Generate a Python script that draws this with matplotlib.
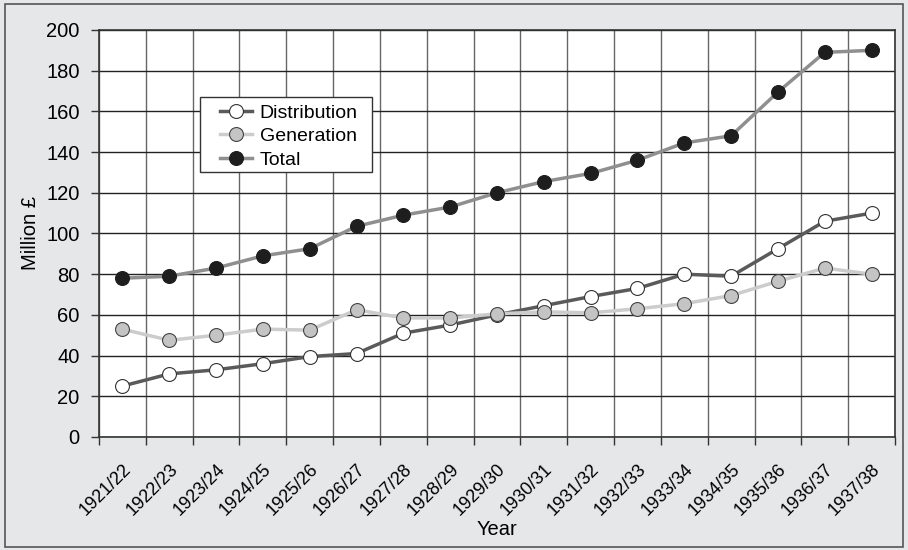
import numpy as np
import matplotlib.pyplot as plt
from matplotlib.transforms import ScaledTranslation

plt.rcParams['font.family'] = ['Liberation Sans', 'DejaVu Sans']

years = ["1921/22", "1922/23", "1923/24", "1924/25", "1925/26", "1926/27",
         "1927/28", "1928/29", "1929/30", "1930/31", "1931/32", "1932/33",
         "1933/34", "1934/35", "1935/36", "1936/37", "1937/38"]
distribution = [25, 31, 33, 36, 39.5, 41, 51, 55, 60, 64.5, 69, 73, 80, 79, 92.5, 106, 110]
generation = [53, 47.5, 50, 53, 52.5, 62.5, 58.5, 58.5, 60.5, 61.5, 61, 63, 65.5, 69.5, 76.5, 83, 80]
total = [78, 79, 83, 89, 92.5, 103.5, 109, 113, 120, 125.5, 129.5, 136, 144.5, 148, 169.5, 189, 190]

fig = plt.figure(figsize=(9.08, 5.5), dpi=100, facecolor="#e6e7e8")
fig.patches.append(plt.Rectangle((0.006, 0.006), 0.988, 0.986, transform=fig.transFigure,
                                 fill=False, edgecolor="#555555", linewidth=1.2))
ax = fig.add_axes([0.109, 0.2055, 0.8767, 0.74])
ax.set_facecolor("white")

x = np.arange(len(years))
ax.plot(x, distribution, color="#5a5a5a", lw=2.5, marker="o", ms=10,
        mfc="white", mec="#333333", mew=0.8, label="Distribution", zorder=3)
ax.plot(x, generation, color="#cccccc", lw=2.5, marker="o", ms=10,
        mfc="#c4c4c4", mec="#444444", mew=0.8, label="Generation", zorder=3)
ax.plot(x, total, color="#8f8f8f", lw=2.5, marker="o", ms=10,
        mfc="#1e1e1e", mec="#1e1e1e", mew=0.8, label="Total", zorder=3)

fs = 14.5
ax.set_xlim(-0.5, len(years) - 0.5)
ax.set_ylim(0, 200)
ax.set_yticks(np.arange(0, 201, 20))
ax.set_xticks(x)
ax.set_xticklabels(years, rotation=45, ha="right", rotation_mode="anchor", fontsize=13)
shift = ScaledTranslation(8 / 100, 0, fig.dpi_scale_trans)
for lab in ax.get_xticklabels():
    lab.set_transform(lab.get_transform() + shift)
ax.set_xticks(np.arange(-0.5, len(years), 1), minor=True)
ax.tick_params(axis="x", which="major", length=0, pad=17)
ax.tick_params(axis="x", which="minor", length=6, width=1, color="#333333")
ax.tick_params(axis="y", length=6, width=1, color="#333333", labelsize=fs, pad=8)
ax.grid(True, axis="y", color="#222222", lw=1)
ax.grid(True, axis="x", which="minor", color="#666666", lw=1)
ax.set_axisbelow(True)
for s in ax.spines.values():
    s.set_color("#333333")
    s.set_linewidth(1.2)

ax.set_xlabel("Year", fontsize=fs, labelpad=1)
ax.set_ylabel("Million £", fontsize=fs, labelpad=4)

# legend box drawn separately so its padding matches the original
box = plt.Rectangle((0.127, 0.651), 0.216, 0.184, transform=ax.transAxes,
                    facecolor="white", edgecolor="#333333", lw=1, zorder=5)
ax.add_patch(box)
leg = ax.legend(loc="upper left", bbox_to_anchor=(0.152, 0.818), fontsize=14,
                frameon=False, handlelength=1.65, borderpad=0, labelspacing=0.3,
                handletextpad=0.4, borderaxespad=0)
leg.set_zorder(6)

fig.savefig("out.png", dpi=100, facecolor=fig.get_facecolor())
